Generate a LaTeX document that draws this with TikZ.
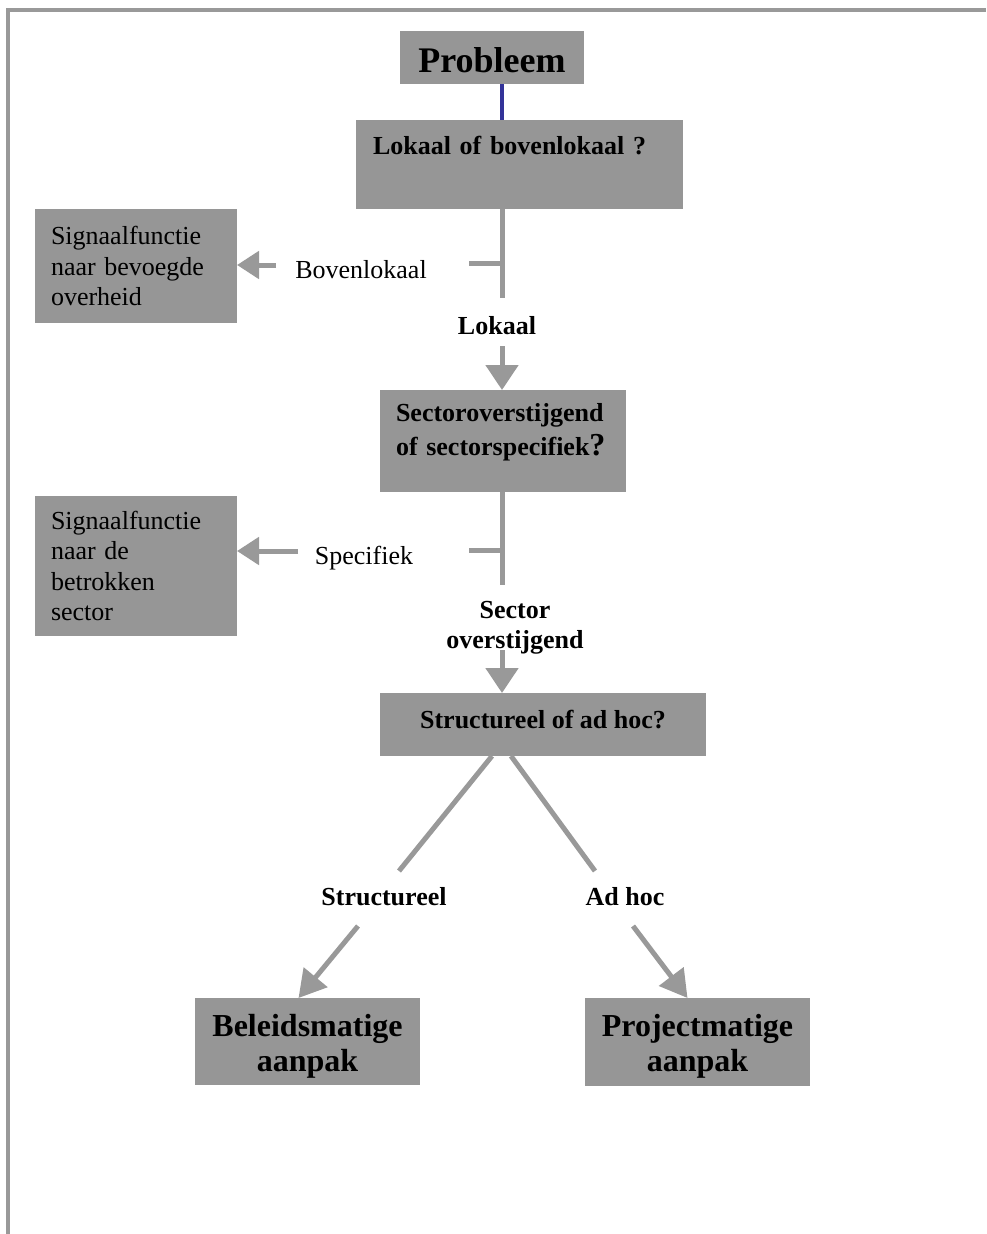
\documentclass[tikz,border=0pt]{standalone}
\usepackage{fontspec}
\setmainfont{Liberation Serif}
\usetikzlibrary{arrows.meta,calc}
\definecolor{boxgray}{RGB}{150,150,150}
\definecolor{linegray}{RGB}{153,153,153}
\definecolor{navyline}{RGB}{51,51,153}
\begin{document}
\begin{tikzpicture}[x=1pt,y=-1pt,
  box/.style={fill=boxgray, draw=none, inner sep=0pt, outer sep=0pt, anchor=north west},
  small/.style={font=\fontsize{26}{30.5}\selectfont},
  smallbf/.style={font=\bfseries\fontsize{26}{30.5}\selectfont},
  lbl/.style={inner sep=0pt, outer sep=0pt},
  conn/.style={draw=linegray, line width=5pt},
  arrdown/.style={conn, -{Triangle[width=32pt,length=25pt]}},
  arrleft/.style={conn, -{Triangle[width=27pt,length=22pt]}},
  arrdiag/.style={conn, -{Triangle[width=30pt,length=27pt]}},
  blueline/.style={draw=navyline, line width=4.5pt},
  frame/.style={draw=linegray, line width=4.5pt}
]
\useasboundingbox (0,0) rectangle (986,1234);
% frame
\draw[frame] (8,1234) -- (8,10) -- (986,10);

% boxes
\node[box, minimum width=184pt, text height=41pt, text depth=12pt,
      font=\bfseries\fontsize{36}{40}\selectfont] (prob) at (400,31) {Probleem};
\node[box, smallbf, text width=293pt, inner xsep=17pt, align=left,
      text height=34pt, text depth=55pt] (lok) at (356,120) {Lokaal of bovenlokaal ?};
\node[box, small, text width=170pt, inner xsep=16pt, align=left,
      minimum height=114pt] (sig1) at (35,209) {Signaalfunctie\\naar bevoegde\\overheid};
\node[box, font=\bfseries\fontsize{26}{34}\selectfont, text width=214pt, inner xsep=16pt, align=left,
      text height=31pt, text depth=71pt] (sec) at (380,390)
      {Sectoroverstijgend\\of sectorspecifiek{\fontsize{32}{34}\selectfont ?}};
\node[box, small, text width=170pt, inner xsep=16pt, align=left,
      minimum height=140pt] (sig2) at (35,496) {Signaalfunctie\\naar de\\betrokken\\sector};
\node[box, smallbf, minimum width=326pt, align=center,
      text height=35pt, text depth=28pt] (struct) at (380,693) {Structureel of ad hoc?};
\node[box, font=\bfseries\fontsize{32}{35}\selectfont, text width=209pt, inner xsep=8pt,
      align=center, text height=38pt, text depth=49pt] (bel) at (195,998) {Beleidsmatige\\aanpak};
\node[box, font=\bfseries\fontsize{32}{35}\selectfont, text width=209pt, inner xsep=8pt,
      align=center, text height=38pt, text depth=50pt] (proj) at (585,998) {Projectmatige\\aanpak};

% labels
\node[lbl, small] (lboven) at (361,270) {Bovenlokaal};
\node[lbl, smallbf] (llok) at (497,326) {Lokaal};
\node[lbl, small] (lspec) at (364,558) {Specifiek};
\node[lbl, font=\bfseries\fontsize{26}{30}\selectfont, align=center] (lsect) at (515,628) {Sector\\overstijgend};
\node[lbl, smallbf] (lstruct) at (384,897) {Structureel};
\node[lbl, smallbf] (ladhoc) at (625,897) {Ad hoc};

% coordinates
\coordinate (axis) at (502,0);
\coordinate (j1) at (502,298);
\coordinate (stub1) at (469,263);
\coordinate (a1) at (276,265);
\coordinate (a2) at (502,346);
\coordinate (j2) at (502,585);
\coordinate (stub2) at (469,550);
\coordinate (a3) at (298,551);
\coordinate (a4) at (502,650);
\coordinate (d1s) at (492,756);
\coordinate (d1e) at (399,871);
\coordinate (d2s) at (511,756);
\coordinate (d2e) at (595,871);
\coordinate (a5) at (358,926);
\coordinate (a6) at (633,926);

% connectors
\draw[blueline] (prob.south -| axis) -- (lok.north -| axis);
\draw[conn] (lok.south -| axis) -- (j1);
\draw[conn] (stub1) -- (stub1 -| axis);
\draw[arrleft] (a1) -- (sig1.east |- a1);
\draw[arrdown] (a2) -- (sec.north -| axis);
\draw[conn] (sec.south -| axis) -- (j2);
\draw[conn] (stub2) -- (stub2 -| axis);
\draw[arrleft] (a3) -- (sig2.east |- a3);
\draw[arrdown] (a4) -- (struct.north -| axis);
\draw[conn] (d1s) -- (d1e);
\draw[conn] (d2s) -- (d2e);
\draw[arrdiag] (a5) -- ($(bel.north)+(-9,0)$);
\draw[arrdiag] (a6) -- ($(proj.north)+(-10,0)$);
\end{tikzpicture}
\end{document}
